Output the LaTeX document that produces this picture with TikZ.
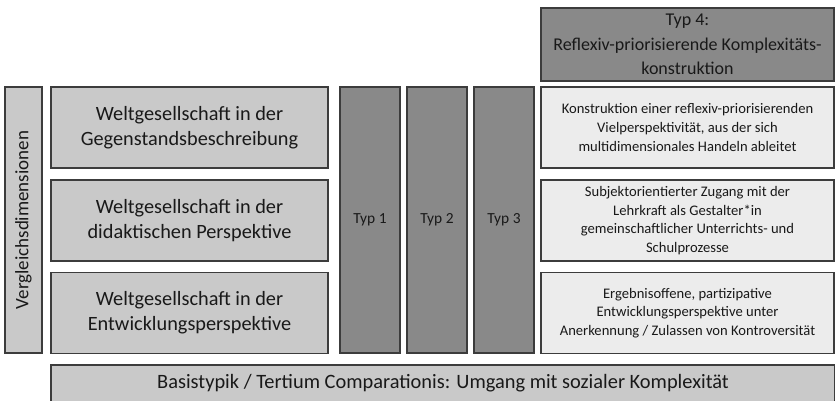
\documentclass[tikz,border=0pt]{standalone}
\usepackage{fontspec}
\setmainfont{Carlito}
\usepackage{tikz}

\definecolor{hell}{HTML}{C9C9C9}
\definecolor{dunkel}{HTML}{898989}
\definecolor{weiss}{HTML}{ECECEC}
\definecolor{rand}{HTML}{3C3C3C}

\begin{document}
\begin{tikzpicture}[x=1pt,y=-1pt,
  feld/.style={draw=rand,line width=1.3pt,inner sep=2pt,align=center,text=black!90},
  dim/.style={feld,fill=hell,minimum width=277pt,minimum height=81pt,font=\fontsize{20.3}{25}\selectfont},
  typ/.style={feld,fill=dunkel,minimum width=60pt,minimum height=266pt,font=\fontsize{15.4}{18}\selectfont},
  besch/.style={feld,fill=weiss,minimum width=293pt,minimum height=81pt,font=\fontsize{14.6}{18.6}\selectfont}]
\clip (0,0) rectangle (835,400);
\useasboundingbox (0,0) rectangle (835,400);
% Vergleichsdimensionen
\node[feld,fill=hell,rotate=90,minimum width=266pt,minimum height=37pt,font=\fontsize{19}{22}\selectfont] (vgl) at (23.5,220) {Vergleichsdimensionen};
\node[dim] (w1) at (189.5,127.5) {Weltgesellschaft in der\\Gegenstandsbeschreibung};
\node[dim] (w2) at (189.5,220.5) {Weltgesellschaft in der\\didaktischen Perspektive};
\node[dim] (w3) at (189.5,313) {Weltgesellschaft in der\\Entwicklungsperspektive};
% Typen
\node[typ] (t1) at (370,220) {Typ 1};
\node[typ] (t2) at (437,220) {Typ 2};
\node[typ] (t3) at (504,220) {Typ 3};
\node[feld,fill=dunkel,minimum width=293pt,minimum height=73pt,font=\fontsize{18}{24.5}\selectfont] (t4) at (687.5,44.5) {Typ 4:\\Reflexiv-priorisierende Komplexitäts-\\konstruktion};
\node[besch] (r1) at (687.5,127.5) {Konstruktion einer reflexiv-priorisierenden\\Vielperspektivität, aus der sich\\multidimensionales Handeln ableitet};
\node[besch] (r2) at (687.5,220.5) {Subjektorientierter Zugang mit der\\Lehrkraft als Gestalter*in\\gemeinschaftlicher Unterrichts- und\\Schulprozesse};
\node[besch] (r3) at (687.5,313) {Ergebnisoffene, partizipative\\Entwicklungsperspektive unter\\Anerkennung / Zulassen von Kontroversität};
% Basis
\node[feld,fill=hell,minimum width=784pt,minimum height=37pt,font=\fontsize{20.4}{24}\selectfont] (basis) at (443,383.5) {Basistypik / Tertium Comparationis: Umgang mit sozialer Komplexität};
\end{tikzpicture}
\end{document}
